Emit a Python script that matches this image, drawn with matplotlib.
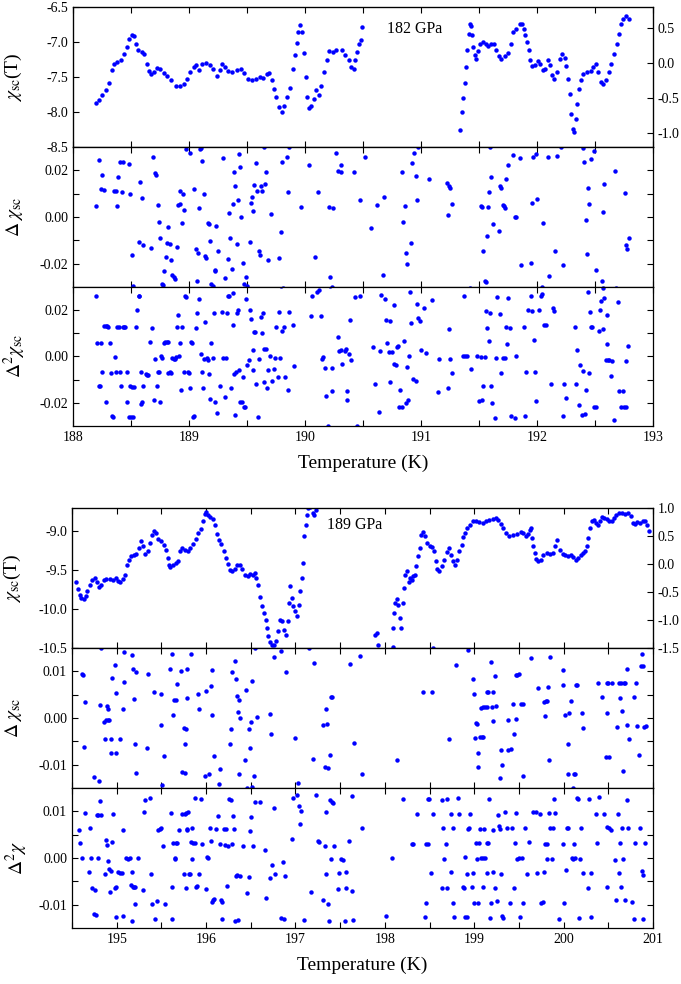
import numpy as np
import matplotlib
matplotlib.use('Agg')
import matplotlib.pyplot as plt
from matplotlib.ticker import MultipleLocator, FixedLocator

plt.rcParams['font.family'] = ['Liberation Serif', 'DejaVu Serif']
plt.rcParams['mathtext.fontset'] = 'stix'
plt.rcParams['axes.unicode_minus'] = False

# ---------------- 182 GPa run ----------------
# chi_sc(T) in tesla
t_182 = [188.197, 188.226, 188.254, 188.283, 188.311, 188.334, 188.354, 188.383, 188.411, 188.440,
         188.463, 188.483, 188.506, 188.526, 188.543, 188.563, 188.591, 188.611, 188.634, 188.654,
         188.674, 188.697, 188.726, 188.754, 188.783, 188.811, 188.849, 188.886, 188.920, 188.954,
         188.983, 189.011, 189.040, 189.063, 189.086, 189.114, 189.143, 189.177, 189.211, 189.240,
         189.263, 189.286, 189.306, 189.334, 189.371, 189.411, 189.449, 189.477, 189.506, 189.543,
         189.577, 189.611, 189.640, 189.669, 189.691, 189.714, 189.734, 189.754, 189.777, 189.800,
         189.823, 189.849, 189.874, 189.897, 189.914, 189.929, 189.943, 189.960, 189.977, 189.991,
         190.006, 190.020, 190.034, 190.054, 190.077, 190.097, 190.120, 190.140, 190.163, 190.186,
         190.211, 190.240, 190.269, 190.320, 190.349, 190.377, 190.400, 190.420, 190.434, 190.449,
         190.469, 190.486, 190.491,
         191.340, 191.354, 191.366, 191.377, 191.386, 191.400, 191.411, 191.420, 191.429, 191.440,
         191.451, 191.463, 191.474, 191.491, 191.511, 191.534, 191.557, 191.577, 191.600, 191.626,
         191.649, 191.669, 191.691, 191.720, 191.754, 191.777, 191.797, 191.823, 191.851, 191.869,
         191.886, 191.900, 191.914, 191.929, 191.943, 191.960, 191.983, 192.006, 192.029, 192.049,
         192.069, 192.091, 192.111, 192.129, 192.149, 192.171, 192.194, 192.217, 192.240, 192.254,
         192.269, 192.283, 192.297, 192.309, 192.320, 192.334, 192.349, 192.363, 192.377, 192.400,
         192.434, 192.463, 192.486, 192.506, 192.526, 192.549, 192.571, 192.594, 192.620, 192.640,
         192.663, 192.686, 192.709, 192.726, 192.743, 192.763, 192.791]
chi_182 = [-7.871, -7.824, -7.752, -7.690, -7.586, -7.405, -7.310, -7.286, -7.252, -7.167,
           -7.071, -6.952, -6.895, -6.919, -7.024, -7.119, -7.143, -7.176, -7.310, -7.414,
           -7.462, -7.429, -7.371, -7.386, -7.443, -7.490, -7.548, -7.633, -7.633, -7.605,
           -7.524, -7.429, -7.357, -7.333, -7.395, -7.319, -7.300, -7.333, -7.381, -7.490,
           -7.405, -7.310, -7.357, -7.419, -7.429, -7.395, -7.381, -7.443, -7.524, -7.548,
           -7.524, -7.500, -7.510, -7.462, -7.443, -7.548, -7.667, -7.786, -7.929, -8.000,
           -7.919, -7.786, -7.652, -7.381, -7.190, -7.014, -6.857, -6.752, -6.857, -7.157,
           -7.500, -7.786, -7.938, -7.919, -7.810, -7.690, -7.762, -7.633, -7.429, -7.252,
           -7.129, -7.143, -7.110, -7.119, -7.190, -7.262, -7.357, -7.381, -7.262, -7.143,
           -7.024, -6.976, -6.786,
           -8.252, -8.000, -7.795, -7.586, -7.357, -7.119, -6.881, -6.748, -6.776, -6.895,
           -7.071, -7.190, -7.238, -7.129, -7.024, -7.000, -7.024, -7.062, -7.024, -7.024,
           -7.110, -7.205, -7.238, -7.205, -7.157, -7.024, -6.857, -6.810, -6.748, -6.738,
           -6.810, -6.905, -7.000, -7.119, -7.262, -7.338, -7.333, -7.271, -7.319, -7.405,
           -7.381, -7.262, -7.333, -7.476, -7.524, -7.429, -7.238, -7.176, -7.224, -7.348,
           -7.524, -7.738, -8.024, -8.238, -8.286, -8.095, -7.881, -7.667, -7.548, -7.452,
           -7.429, -7.414, -7.357, -7.310, -7.429, -7.571, -7.605, -7.538, -7.429, -7.310,
           -7.167, -7.024, -6.881, -6.748, -6.667, -6.633, -6.667]

# first difference
t_d1_182 = [188.197, 188.226, 188.249, 188.240, 188.263, 188.354, 188.371, 188.377, 188.386, 188.406,
            188.420, 188.434, 188.483, 188.494, 188.506, 188.514, 188.569, 188.580, 188.591, 188.600,
            188.674, 188.686, 188.703, 188.714, 188.729, 188.740, 188.749, 188.766, 188.777, 188.786,
            188.800, 188.811, 188.823, 188.834, 188.843, 188.857, 188.869, 188.883, 188.897, 188.909,
            188.920, 188.923, 188.937, 188.949, 188.960, 188.971, 189.011, 189.040, 189.057, 189.069,
            189.077, 189.086, 189.094, 189.106, 189.114, 189.126, 189.140, 189.149, 189.160, 189.171,
            189.177, 189.191, 189.206, 189.220, 189.226, 189.229, 189.249, 189.297, 189.309, 189.334,
            189.343, 189.354, 189.369, 189.377, 189.389, 189.400, 189.411, 189.423, 189.429, 189.443,
            189.451, 189.463, 189.477, 189.491, 189.503, 189.526, 189.534, 189.543, 189.554, 189.563,
            189.577, 189.589, 189.600, 189.611, 189.620, 189.631, 189.646, 189.657, 189.663, 189.683,
            189.703, 189.777, 189.791, 189.800, 189.806, 189.843, 189.854, 189.863, 189.963, 190.034,
            190.086, 190.114, 190.134, 190.206, 190.214, 190.231, 190.243, 190.263, 190.286,
            190.306, 190.314, 190.420, 190.471, 190.514, 190.566, 190.620, 190.671, 190.683, 190.840,
            190.849, 190.863, 190.871, 190.883, 190.911, 190.920, 190.943, 190.954, 190.963, 190.971,
            191.069, 191.220, 191.240, 191.254, 191.234, 191.263, 191.423, 191.514, 191.526, 191.537,
            191.549, 191.557, 191.569, 191.577, 191.586, 191.597, 191.606, 191.617, 191.671, 191.680,
            191.691, 191.703, 191.714, 191.726, 191.734, 191.746, 191.797, 191.806, 191.820, 191.851,
            191.863, 191.946, 191.954, 191.969, 191.989, 191.997, 192.040, 192.051, 192.091, 192.106,
            192.157, 192.169, 192.211, 192.223, 192.397, 192.409, 192.420, 192.431, 192.443, 192.451,
            192.463, 192.491, 192.509, 192.560, 192.566, 192.571, 192.577, 192.671, 192.677, 192.757,
            192.766, 192.777, 192.789]
d1_182 = [0.0047, 0.0245, 0.0181, 0.0119, 0.0115, 0.0112, 0.0112, 0.0046, 0.0173, 0.0236,
          0.0108, 0.0237, 0.0227, 0.0098, -0.0164, -0.0294, -0.0108, 0.0150, 0.0083, -0.0122,
          -0.0132, 0.0256, 0.0187, 0.0178, 0.0050, -0.0020, -0.0089, -0.0286, -0.0291, -0.0230,
          -0.0173, -0.0111, -0.0043, -0.0115, -0.0183, -0.0247, -0.0255, -0.0265, -0.0129, 0.0050,
          0.0055, 0.0112, -0.0027, 0.0098, 0.0030, 0.0292, 0.0273, 0.0119, -0.0135, -0.0276,
          -0.0154, 0.0040, 0.0292, 0.0296, 0.0239, 0.0098, -0.0168, -0.0176, -0.0024, -0.0029,
          -0.0104, -0.0288, -0.0294, -0.0226, -0.0230, -0.0040, -0.0147, 0.0252, -0.0262, -0.0181,
          0.0017, -0.0092, -0.0222, 0.0055, 0.0191, 0.0131, -0.0114, 0.0072, 0.0271, 0.0213,
          0.0000, -0.0197, -0.0288, -0.0255, -0.0294, -0.0106, 0.0058, 0.0086, 0.0026, 0.0137,
          0.0230, 0.0112, -0.0147, -0.0161, 0.0134, 0.0112, 0.0302, 0.0141, 0.0194, -0.0186,
          0.0012, -0.0176, -0.0066, 0.0236, -0.0305, 0.0256, 0.0109, 0.0302, 0.0043, 0.0224,
          -0.0173, 0.0109, -0.0317, 0.0043, -0.0259, -0.0302, 0.0040, 0.0275, 0.0199,
          0.0223, 0.0191, 0.0194, 0.0072, 0.0259, -0.0046, 0.0052, -0.0247, 0.0086, 0.0194,
          -0.0020, 0.0046, -0.0154, -0.0201, -0.0111, 0.0230, 0.0275, 0.0176, 0.0073, 0.0302,
          0.0163, 0.0147, 0.0134, 0.0124, 0.0010, 0.0055, -0.0305, 0.0047, 0.0045, -0.0147,
          -0.0273, -0.0279, -0.0082, 0.0043, 0.0109, 0.0299, 0.0170, -0.0029, -0.0058, 0.0131,
          0.0124, 0.0052, 0.0046, 0.0037, 0.0165, 0.0222, 0.0265, 0.0000, 0.0000, 0.0253,
          -0.0204, -0.0197, 0.0062, 0.0259, 0.0268, 0.0076, -0.0298, -0.0026, 0.0256, -0.0253,
          -0.0147, 0.0263, 0.0302, -0.0204, 0.0296, 0.0235, -0.0014, -0.0158, 0.0124, 0.0055,
          0.0247, 0.0285, -0.0226, -0.0276, -0.0305, 0.0022, 0.0141, 0.0199, -0.0305, 0.0101,
          -0.0119, -0.0137, -0.0089]

# second difference
t_d2_182 = [188.200, 188.206, 188.226, 188.234, 188.243, 188.254, 188.286, 188.271, 188.286, 188.297,
            188.306, 188.320, 188.329, 188.337, 188.349, 188.360, 188.371, 188.383, 188.394, 188.406,
            188.417, 188.429, 188.440, 188.451, 188.463, 188.469, 188.480, 188.491, 188.500, 188.511,
            188.520, 188.529, 188.531, 188.543, 188.554, 188.566, 188.571, 188.583, 188.589, 188.597,
            188.606, 188.626, 188.634, 188.646, 188.660, 188.683, 188.697, 188.709, 188.720, 188.731,
            188.743, 188.754, 188.760, 188.769, 188.771, 188.780, 188.783, 188.794, 188.806, 188.817,
            188.823, 188.834, 188.846, 188.857, 188.869, 188.880, 188.891, 188.897, 188.903, 188.914,
            188.923, 188.931, 188.943, 188.954, 188.966, 188.977, 188.989, 188.997, 189.006, 189.014,
            189.023, 189.034, 189.046, 189.057, 189.063, 189.071, 189.086, 189.091, 189.103, 189.109,
            189.120, 189.131, 189.140, 189.151, 189.160, 189.171, 189.177, 189.186, 189.189, 189.197,
            189.206, 189.217, 189.223, 189.240, 189.271, 189.286, 189.297, 189.311, 189.323, 189.331,
            189.340, 189.349, 189.363, 189.377, 189.377, 189.389, 189.400, 189.406, 189.411, 189.423,
            189.431, 189.443, 189.454, 189.463, 189.474, 189.483, 189.491, 189.491, 189.503, 189.514,
            189.526, 189.531, 189.537, 189.549, 189.554, 189.563, 189.571, 189.580, 189.594, 189.606,
            189.617, 189.626, 189.634, 189.643, 189.649, 189.660, 189.669, 189.683, 189.697, 189.714,
            189.731, 189.743, 189.754, 189.769, 189.777, 189.786, 189.794, 189.800, 189.820, 189.829,
            189.851, 189.860, 189.897, 189.909, 190.051, 190.063, 190.106, 190.120, 190.137, 190.149,
            190.157, 190.171, 190.183, 190.197, 190.214, 190.229, 190.234, 190.286, 190.291,
            190.314, 190.320, 190.343, 190.354, 190.363, 190.366, 190.383, 190.391, 190.400, 190.434,
            190.449, 190.477, 190.583, 190.606, 190.634, 190.646, 190.657, 190.686, 190.697, 190.709,
            190.720, 190.729, 190.737, 190.749, 190.763, 190.771, 190.783, 190.791, 190.800, 190.811,
            190.820, 190.840, 190.857, 190.869, 190.877, 190.886, 190.894, 190.906, 190.914, 190.934,
            190.954, 190.963, 190.971, 190.991, 191.000, 191.023, 191.040, 191.091, 191.143, 191.154,
            191.229, 191.240, 191.249, 191.263, 191.360, 191.377, 191.371, 191.394, 191.434, 191.486,
            191.497, 191.514, 191.529, 191.537, 191.554, 191.560, 191.571, 191.583, 191.594, 191.600,
            191.611, 191.634, 191.649, 191.657, 191.677, 191.691, 191.703, 191.720, 191.734, 191.740,
            191.749, 191.766, 191.777, 191.806, 191.817, 191.886, 191.897, 191.909, 191.920, 191.949,
            191.960, 191.971, 191.980, 191.994, 192.020, 192.034, 192.046, 192.063, 192.077, 192.120,
            192.137, 192.149, 192.223, 192.234, 192.246, 192.326, 192.340, 192.349, 192.363, 192.371,
            192.389, 192.400, 192.411, 192.423, 192.440, 192.446, 192.457, 192.463, 192.477, 192.491,
            192.509, 192.531, 192.540, 192.554, 192.566, 192.577, 192.591, 192.600, 192.606, 192.614,
            192.623, 192.634, 192.649, 192.663, 192.697, 192.709, 192.726, 192.737, 192.749, 192.763,
            192.771, 192.783, 191.549, 192.034, 192.566]
d2_182 = [0.0260, 0.0059, -0.0129, -0.0129, 0.0059, -0.0066, -0.0196, 0.0132, 0.0132, 0.0132,
          0.0129, 0.0060, -0.0072, -0.0256, -0.0262, -0.0003, -0.0065, 0.0127, 0.0129, -0.0068,
          -0.0129, 0.0129, 0.0129, 0.0129, -0.0068, -0.0197, -0.0262, -0.0129, -0.0262, -0.0132,
          -0.0262, -0.0132, 0.0311, 0.0129, 0.0199, 0.0259, 0.0259, -0.0066, -0.0204, -0.0197,
          -0.0129, -0.0075, -0.0078, -0.0078, 0.0062, 0.0122, -0.0190, -0.0012, -0.0129, -0.0068,
          -0.0068, -0.0197, 0.0000, -0.0006, 0.0317, 0.0311, 0.0059, 0.0062, 0.0063, 0.0062,
          -0.0072, -0.0068, -0.0072, -0.0006, -0.0012, -0.0012, -0.0003, 0.0127, 0.0178, 0.0000,
          0.0058, -0.0144, 0.0127, -0.0066, 0.0262, 0.0255, -0.0066, -0.0072, -0.0135, 0.0063,
          0.0056, -0.0262, -0.0259, 0.0124, 0.0328, 0.0188, 0.0249, 0.0318, 0.0009, -0.0066,
          -0.0135, -0.0010, 0.0148, -0.0006, -0.0014, -0.0075, -0.0183, 0.0059, 0.0319, 0.0311,
          -0.0006, 0.0187, -0.0197, -0.0242, -0.0129, 0.0190, -0.0006, -0.0176, -0.0006, 0.0188,
          0.0263, 0.0263, -0.0137, 0.0135, 0.0275, -0.0075, -0.0252, -0.0066, 0.0188, 0.0199,
          -0.0058, -0.0196, -0.0197, -0.0089, -0.0216, -0.0216, 0.0246, 0.0311, -0.0039, -0.0017,
          0.0199, 0.0160, 0.0311, 0.0030, -0.0059, 0.0106, 0.0105, -0.0118, -0.0262, -0.0012,
          0.0170, 0.0102, 0.0188, -0.0111, 0.0033, 0.0033, -0.0135, -0.0058, 0.0000, -0.0104,
          -0.0055, -0.0006, 0.0127, -0.0089, 0.0191, -0.0006, 0.0302, 0.0108, 0.0127, -0.0089,
          -0.0144, 0.0191, 0.0135, -0.0043, 0.0174, 0.0259, 0.0276, 0.0285, 0.0174, -0.0012,
          -0.0003, -0.0049, -0.0170, -0.0302, 0.0302, -0.0049, -0.0147, 0.0083, 0.0023,
          0.0029, -0.0032, 0.0023, 0.0033, -0.0147, -0.0186, 0.0012, 0.0158, -0.0017, 0.0256,
          -0.0302, 0.0263, 0.0040, -0.0118, -0.0240, 0.0023, 0.0266, 0.0247, 0.0158, 0.0058,
          0.0019, -0.0112, 0.0153, 0.0019, -0.0032, 0.0220, -0.0035, 0.0040, 0.0047, -0.0216,
          -0.0144, -0.0216, 0.0065, -0.0201, -0.0046, -0.0187, 0.0000, 0.0278, 0.0144, -0.0098,
          -0.0104, 0.0227, 0.0167, 0.0153, 0.0029, 0.0210, 0.0014, 0.0245, -0.0154, -0.0013,
          -0.0137, 0.0119, -0.0009, -0.0072, 0.0004, 0.0004, 0.0259, 0.0004, -0.0055, 0.0001,
          -0.0193, -0.0003, -0.0190, -0.0129, -0.0003, 0.0196, 0.0124, 0.0065, 0.0188, -0.0129,
          -0.0201, -0.0265, -0.0006, 0.0256, 0.0184, -0.0072, -0.0007, -0.0007, 0.0127, 0.0055,
          0.0253, 0.0122, -0.0259, -0.0265, 0.0000, 0.0129, -0.0259, -0.0069, 0.0199, 0.0259,
          0.0196, 0.0072, -0.0066, -0.0193, 0.0200, 0.0259, 0.0268, 0.0135, 0.0135, -0.0118,
          0.0207, 0.0196, -0.0256, -0.0118, -0.0181, 0.0129, -0.0118, 0.0029, -0.0210, -0.0036,
          -0.0253, -0.0063, -0.0247, -0.0144, 0.0279, -0.0071, 0.0191, 0.0128, 0.0127, -0.0219,
          -0.0219, 0.0112, 0.0201, 0.0239, 0.0119, 0.0253, -0.0014, 0.0177, 0.0055, -0.0014,
          -0.0014, -0.0083, -0.0020, -0.0276, 0.0237, -0.0147, -0.0219, -0.0147, -0.0219, -0.0219,
          -0.0020, 0.0047, 0.0324, 0.0309, 0.0296]

# ---------------- 189 GPa run ----------------
t_189 = [194.549, 194.567, 194.586, 194.604, 194.631, 194.653, 194.672, 194.698, 194.728, 194.754,
         194.780, 194.802, 194.828, 194.854, 194.884, 194.922, 194.959, 194.989, 195.015, 195.041,
         195.071, 195.093, 195.116, 195.138, 195.164, 195.190, 195.220, 195.246, 195.269, 195.295,
         195.321, 195.351, 195.377, 195.399, 195.422, 195.444, 195.466, 195.496, 195.526, 195.556,
         195.571, 195.586, 195.600, 195.631, 195.660, 195.687, 195.713, 195.735, 195.765, 195.795,
         195.825, 195.854, 195.884, 195.914, 195.944, 195.966, 195.989, 196.004, 196.026, 196.049,
         196.078, 196.101, 196.123, 196.146, 196.172, 196.198, 196.220, 196.243, 196.265, 196.295,
         196.321, 196.347, 196.377, 196.407, 196.437, 196.470, 196.496, 196.526, 196.549, 196.563,
         196.586, 196.608, 196.631, 196.649, 196.668, 196.683, 196.698, 196.720, 196.743, 196.765,
         196.787, 196.810, 196.832, 196.854, 196.873, 196.892, 196.914, 196.929, 196.944, 196.959,
         196.974, 196.996, 197.019, 197.037, 197.056, 197.071, 197.086, 197.101, 197.116, 197.127,
         197.142, 197.168, 197.191, 197.213, 197.235,
         197.888, 197.907, 197.918, 198.086, 198.093, 198.101, 198.116, 198.131, 198.149, 198.168,
         198.183, 198.198, 198.213, 198.228, 198.243, 198.265, 198.280, 198.299, 198.317, 198.336,
         198.354, 198.373, 198.392, 198.410, 198.429, 198.448, 198.474, 198.504, 198.533, 198.552,
         198.571, 198.586, 198.608, 198.634, 198.660, 198.690, 198.713, 198.735, 198.757, 198.784,
         198.810, 198.832, 198.858, 198.877, 198.896, 198.922, 198.951, 198.981, 199.019, 199.056,
         199.093, 199.131, 199.168, 199.205, 199.243, 199.269, 199.295, 199.325, 199.354, 199.392,
         199.437, 199.481, 199.519, 199.549, 199.578, 199.604, 199.623, 199.638, 199.646, 199.660,
         199.675, 199.690, 199.716, 199.743, 199.772, 199.810, 199.847, 199.877, 199.903, 199.929,
         199.959, 199.989, 200.019, 200.052, 200.078, 200.108, 200.138, 200.164, 200.190, 200.220,
         200.239, 200.257, 200.276, 200.295, 200.317, 200.340, 200.362, 200.384, 200.407, 200.425,
         200.451, 200.481, 200.511, 200.541, 200.563, 200.586, 200.616, 200.649, 200.687, 200.724,
         200.750, 200.772, 200.799, 200.825, 200.854, 200.884, 200.910, 200.937, 200.959, 198.534]
chi_189 = [-9.652, -9.737, -9.814, -9.857, -9.866, -9.836, -9.772, -9.694, -9.622, -9.600,
           -9.652, -9.720, -9.686, -9.622, -9.609, -9.613, -9.622, -9.600, -9.634, -9.652,
           -9.609, -9.557, -9.429, -9.364, -9.321, -9.300, -9.291, -9.214, -9.120, -9.193,
           -9.291, -9.257, -9.150, -9.043, -8.991, -9.021, -9.094, -9.129, -9.171, -9.236,
           -9.343, -9.437, -9.463, -9.429, -9.407, -9.377, -9.257, -9.214, -9.236, -9.257,
           -9.214, -9.163, -9.094, -9.021, -8.966, -8.871, -8.777, -8.751, -8.794, -8.820,
           -8.837, -8.914, -9.034, -9.107, -9.163, -9.257, -9.343, -9.420, -9.493, -9.514,
           -9.480, -9.429, -9.429, -9.480, -9.557, -9.579, -9.549, -9.557, -9.536, -9.600,
           -9.694, -9.849, -9.964, -10.050, -10.136, -10.243, -10.350, -10.423, -10.457, -10.466,
           -10.406, -10.286, -10.136, -10.157, -10.264, -10.329, -10.157, -9.921, -9.707, -9.857,
           -9.964, -10.029, -10.093, -9.943, -9.772, -9.600, -9.407, -9.064, -8.914, -8.786,
           -8.700, -8.691, -8.764, -8.786, -8.721,
           -10.337, -10.307, -10.466, -10.490, -10.243, -10.050, -9.921, -9.866, -9.943, -10.114,
           -10.243, -9.921, -9.729, -9.557, -9.514, -9.652, -9.600, -9.622, -9.579, -9.557,
           -9.450, -9.321, -9.214, -9.043, -9.009, -9.064, -9.150, -9.193, -9.206, -9.257,
           -9.386, -9.480, -9.514, -9.450, -9.364, -9.266, -9.214, -9.300, -9.386, -9.437,
           -9.364, -9.257, -9.171, -9.077, -9.021, -8.957, -8.914, -8.871, -8.871, -8.880,
           -8.893, -8.871, -8.850, -8.837, -8.829, -8.854, -8.906, -8.957, -9.021, -9.056,
           -9.052, -9.034, -9.009, -9.021, -9.064, -9.034, -8.979, -8.957, -9.086, -9.193,
           -9.279, -9.351, -9.386, -9.364, -9.300, -9.279, -9.291, -9.279, -9.193, -9.107,
           -9.236, -9.291, -9.309, -9.321, -9.309, -9.334, -9.364, -9.343, -9.300, -9.279,
           -9.257, -9.193, -9.086, -8.957, -8.871, -8.850, -8.893, -8.923, -8.871, -8.820,
           -8.829, -8.837, -8.863, -8.871, -8.829, -8.786, -8.764, -8.764, -8.777, -8.764,
           -8.807, -8.893, -8.906, -8.880, -8.893, -8.863, -8.871, -8.923, -8.991, -10.500]

t_d1_189 = [194.616, 194.623, 194.634, 194.646, 194.750, 194.802, 194.810, 194.821, 194.858, 194.873,
            194.884, 194.892, 194.903, 194.907, 194.914, 194.937, 194.940, 194.951, 194.978, 194.989,
            194.996, 195.034, 195.071, 195.078, 195.086, 195.172, 195.183, 195.194, 195.205, 195.213,
            195.220, 195.340, 195.354, 195.418, 195.496, 195.496, 195.504, 195.534, 195.601, 195.623,
            195.634, 195.646, 195.660, 195.675, 195.724, 195.735, 195.750, 195.761, 195.765, 195.772,
            195.791, 195.791, 195.832, 195.914, 195.925, 195.993, 196.004, 196.037, 196.052, 196.063,
            196.071, 196.086, 196.146, 196.160, 196.269, 196.284, 196.295, 196.328, 196.340, 196.347,
            196.358, 196.366, 196.373, 196.384, 196.433, 196.448, 196.459, 196.481, 196.496, 196.507,
            196.515, 196.519, 196.537, 196.545, 196.567, 196.720, 196.731, 196.757, 196.836, 196.892,
            197.000, 197.034, 197.146, 197.198, 197.213, 197.313, 197.328, 197.340, 197.358, 197.369,
            197.384, 197.399, 197.410,
            197.608, 197.657, 197.720, 197.743, 198.131, 198.429, 198.522, 198.716, 198.795, 198.933,
            198.989, 198.996, 199.007, 199.015, 199.026, 199.041, 199.041, 199.063, 199.071, 199.086,
            199.101, 199.101, 199.123, 199.146, 199.138, 199.157, 199.187, 199.198, 199.205, 199.213,
            199.228, 199.239, 199.287, 199.299, 199.306, 199.373, 199.381, 199.410, 199.437, 199.448,
            199.466, 199.466, 199.481, 199.504, 199.522, 199.541, 199.549, 199.631, 199.716, 199.780,
            199.791, 199.802, 199.817, 199.825, 199.840, 199.847, 199.989, 199.989, 200.015, 200.045,
            200.052, 200.063, 200.078, 200.119, 200.131, 200.134, 200.153, 200.205, 200.220, 200.384,
            200.425, 200.474, 200.481, 200.489, 200.500, 200.511, 200.537, 200.601, 200.616, 200.631,
            200.638, 200.649, 200.668, 200.675, 200.690, 200.705, 200.713, 200.735, 200.791, 200.806,
            200.825, 200.847, 200.862, 200.884, 200.881, 200.896, 200.922, 200.108]
d1_189 = [0.0094, 0.0093, -0.0062, 0.0034, -0.0126, -0.0135, 0.0028, 0.0150, -0.0009, -0.0044,
          -0.0004, 0.0025, 0.0019, -0.0005, -0.0005, -0.0044, -0.0075, 0.0085, 0.0114, 0.0053,
          -0.0074, -0.0045, 0.0019, 0.0142, 0.0078, 0.0134, 0.0104, 0.0041, -0.0055, -0.0118,
          0.0099, -0.0064, 0.0095, 0.0056, 0.0051, -0.0015, -0.0144, -0.0081, 0.0104, 0.0138,
          0.0007, 0.0039, 0.0039, 0.0072, 0.0101, -0.0116, -0.0021, -0.0118, -0.0055, -0.0023,
          0.0104, 0.0043, 0.0137, 0.0052, 0.0020, -0.0125, 0.0057, -0.0121, 0.0068, 0.0102,
          0.0007, -0.0081, -0.0141, -0.0110, -0.0056, -0.0024, 0.0099, 0.0121, 0.0084, 0.0048,
          0.0012, 0.0038, -0.0119, -0.0001, -0.0091, 0.0059, -0.0150, -0.0024, -0.0065, -0.0008,
          0.0079, -0.0148, -0.0124, 0.0150, 0.0002, 0.0009, -0.0034, 0.0131, 0.0143, 0.0098,
          -0.0042, -0.0139, 0.0149, -0.0087, 0.0118, -0.0015, -0.0105, 0.0019, -0.0013, -0.0108,
          -0.0079, 0.0046, 0.0044,
          0.0116, -0.0054, 0.0132, -0.0121, -0.0089, 0.0056, 0.0055, -0.0044, 0.0113, 0.0146,
          0.0084, 0.0052, -0.0043, -0.0011, -0.0012, -0.0074, -0.0105, -0.0041, 0.0022, -0.0041,
          -0.0041, 0.0023, 0.0023, 0.0023, 0.0055, 0.0055, 0.0120, 0.0024, -0.0006, 0.0055,
          0.0089, 0.0025, -0.0129, -0.0068, -0.0101, -0.0069, -0.0004, -0.0066, 0.0029, -0.0034,
          -0.0002, 0.0092, 0.0093, 0.0094, 0.0031, 0.0031, -0.0125, 0.0128, 0.0064, 0.0034,
          0.0004, 0.0036, 0.0036, 0.0066, -0.0091, 0.0130, 0.0102, 0.0071, 0.0006, -0.0121,
          -0.0055, 0.0010, 0.0037, -0.0120, -0.0121, 0.0071, 0.0071, 0.0011, -0.0021, 0.0075,
          0.0044, -0.0084, 0.0075, 0.0011, 0.0076, -0.0084, 0.0075, -0.0020, 0.0075, 0.0042,
          0.0075, 0.0014, -0.0113, 0.0076, 0.0075, -0.0016, 0.0106, -0.0046, 0.0045, 0.0075,
          -0.0018, -0.0079, 0.0111, 0.0111, 0.0138, -0.0019, -0.0018, -0.0150]

t_d2_189 = [194.575, 194.586, 194.616, 194.642, 194.690, 194.705, 194.713, 194.724, 194.743, 194.754,
            194.765, 194.776, 194.787, 194.795, 194.810, 194.821, 194.869, 194.877, 194.888, 194.899,
            194.910, 194.922, 194.937, 194.944, 194.959, 194.978, 194.989, 194.996, 195.019, 195.034,
            195.056, 195.075, 195.071, 195.108, 195.127, 195.146, 195.157, 195.168, 195.175, 195.183,
            195.194, 195.205, 195.209, 195.243, 195.299, 195.306, 195.321, 195.377, 195.388, 195.399,
            195.433, 195.451, 195.466, 195.481, 195.496, 195.519, 195.545, 195.604, 195.616, 195.623,
            195.634, 195.649, 195.657, 195.668, 195.675, 195.698, 195.735, 195.754, 195.761, 195.772,
            195.780, 195.784, 195.791, 195.802, 195.813, 195.821, 195.828, 195.840, 195.843, 195.854,
            195.873, 195.881, 195.888, 195.899, 195.922, 195.948, 195.959, 196.004, 196.015, 196.026,
            196.045, 196.052, 196.063, 196.078, 196.086, 196.116, 196.138, 196.153, 196.168, 196.175,
            196.183, 196.198, 196.213, 196.228, 196.235, 196.246, 196.257, 196.280, 196.287, 196.299,
            196.313, 196.325, 196.332, 196.347, 196.362, 196.377, 196.414, 196.459, 196.481, 196.496,
            196.507, 196.526, 196.549, 196.601, 196.660, 196.668, 196.716, 196.739, 196.765, 196.772,
            196.843, 196.862, 196.869, 196.881, 196.959, 196.970, 197.015, 197.041, 197.056, 197.067,
            197.097, 197.172, 197.235, 197.254, 197.265, 197.310, 197.328, 197.340, 197.347, 197.369,
            197.377, 197.384, 197.399, 197.414, 197.433, 197.478, 197.489,
            197.422, 197.515, 197.534, 197.552, 197.563, 197.571, 197.597, 197.627, 197.638, 197.646,
            197.739, 198.011, 198.075, 198.205, 198.299, 198.310, 198.362, 198.448, 198.455, 198.466,
            198.478, 198.485, 198.496, 198.511, 198.534, 198.634, 198.634, 198.646, 198.660, 198.679,
            198.690, 198.698, 198.735, 198.743, 198.757, 198.765, 198.772, 198.813, 198.832, 198.877,
            198.884, 198.892, 198.899, 198.914, 198.922, 198.929, 198.944, 198.955, 198.974, 198.989,
            198.996, 199.019, 199.026, 199.037, 199.049, 199.063, 199.078, 199.093, 199.101, 199.108,
            199.119, 199.138, 199.146, 199.153, 199.168, 199.175, 199.190, 199.205, 199.213, 199.235,
            199.250, 199.265, 199.280, 199.291, 199.302, 199.306, 199.325, 199.343, 199.362, 199.399,
            199.425, 199.444, 199.455, 199.466, 199.474, 199.504, 199.511, 199.530, 199.549, 199.567,
            199.586, 199.616, 199.660, 199.690, 199.705, 199.735, 199.750, 199.765, 199.780, 199.791,
            199.810, 199.810, 199.836, 199.847, 199.866, 199.877, 199.892, 199.907, 199.951, 199.996,
            200.004, 200.022, 200.041, 200.049, 200.093, 200.108, 200.119, 200.131, 200.146, 200.164,
            200.175, 200.183, 200.190, 200.213, 200.269, 200.287, 200.302, 200.306, 200.358, 200.369,
            200.399, 200.455, 200.481, 200.489, 200.504, 200.526, 200.578, 200.586, 200.604, 200.616,
            200.631, 200.638, 200.653, 200.660, 200.687, 200.705, 200.716, 200.761, 200.787, 200.799,
            200.854, 200.873, 200.884, 200.892, 200.914]
d2_189 = [0.0061, 0.0032, -0.0001, 0.0096, -0.0031, 0.0064, -0.0001, -0.0065, -0.0121, -0.0068,
          -0.0123, 0.0092, 0.0000, 0.0092, 0.0123, 0.0093, -0.0034, 0.0039, 0.0027, -0.0006,
          -0.0024, -0.0072, -0.0027, 0.0034, 0.0094, -0.0065, -0.0062, -0.0126, -0.0030, -0.0032,
          -0.0032, 0.0059, -0.0124, -0.0001, -0.0002, -0.0001, -0.0058, -0.0134, -0.0031, -0.0062,
          -0.0063, -0.0098, -0.0062, 0.0001, -0.0068, 0.0098, 0.0125, 0.0128, -0.0035, -0.0098,
          -0.0131, -0.0092, 0.0059, 0.0063, 0.0064, 0.0026, -0.0098, 0.0096, -0.0063, -0.0131,
          0.0032, -0.0002, 0.0001, 0.0032, 0.0032, 0.0060, 0.0095, -0.0034, 0.0095, -0.0065,
          0.0096, 0.0063, 0.0061, 0.0099, -0.0034, -0.0034, 0.0034, 0.0064, -0.0002, 0.0032,
          0.0032, 0.0129, -0.0062, -0.0059, -0.0034, 0.0126, 0.0031, -0.0066, 0.0002, -0.0001,
          0.0064, 0.0036, -0.0095, -0.0089, -0.0088, 0.0063, 0.0091, 0.0029, -0.0091, -0.0131,
          -0.0094, 0.0062, 0.0027, 0.0062, -0.0061, 0.0026, 0.0126, 0.0124, 0.0030, 0.0091,
          0.0063, -0.0134, -0.0038, -0.0036, -0.0132, -0.0039, 0.0026, -0.0074, -0.0041, 0.0057,
          0.0087, 0.0025, 0.0121, 0.0119, 0.0018, -0.0086, -0.0042, -0.0015, 0.0107, -0.0034,
          -0.0129, -0.0009, -0.0131, -0.0038, 0.0041, 0.0129, 0.0134, 0.0111, 0.0073, 0.0100,
          -0.0132, -0.0072, 0.0134, 0.0036, 0.0034, -0.0091, 0.0026, 0.0099, -0.0034, -0.0098,
          -0.0134, 0.0125, -0.0002, 0.0119, 0.0026, -0.0066, -0.0032,
          0.0118, -0.0002, -0.0005, -0.0134, -0.0065, -0.0031, 0.0036, -0.0070, 0.0132, -0.0133,
          0.0064, -0.0125, 0.0001, 0.0127, 0.0031, 0.0029, 0.0095, -0.0127, -0.0096, 0.0031,
          0.0031, 0.0126, 0.0126, -0.0032, 0.0095, -0.0064, 0.0125, 0.0064, -0.0002, 0.0031,
          0.0126, -0.0064, -0.0031, 0.0095, 0.0064, -0.0096, -0.0126, 0.0129, 0.0095, -0.0063,
          -0.0064, -0.0126, 0.0002, -0.0034, -0.0127, 0.0062, 0.0064, 0.0095, -0.0063, -0.0032,
          -0.0096, 0.0032, -0.0002, -0.0096, 0.0032, 0.0063, -0.0001, -0.0063, -0.0001, 0.0063,
          -0.0001, 0.0032, -0.0032, 0.0032, 0.0126, -0.0128, -0.0096, -0.0031, 0.0061, -0.0064,
          -0.0093, 0.0092, 0.0068, 0.0062, -0.0034, -0.0125, -0.0128, 0.0098, 0.0064, -0.0096,
          0.0064, -0.0064, 0.0032, 0.0096, -0.0002, -0.0001, -0.0127, -0.0001, -0.0096, 0.0064,
          -0.0034, 0.0034, 0.0099, 0.0098, -0.0032, 0.0094, -0.0096, -0.0094, -0.0031, 0.0031,
          0.0031, -0.0002, 0.0096, 0.0064, -0.0002, 0.0064, 0.0127, 0.0096, -0.0131, 0.0031,
          -0.0096, -0.0026, 0.0064, 0.0064, 0.0001, -0.0002, 0.0031, -0.0001, 0.0129, 0.0126,
          -0.0128, -0.0002, 0.0064, -0.0032, -0.0064, 0.0126, -0.0032, -0.0126, 0.0095, 0.0032,
          0.0130, 0.0095, -0.0063, 0.0066, 0.0064, 0.0061, -0.0004, -0.0091, 0.0095, -0.0032,
          0.0032, -0.0062, 0.0064, -0.0002, -0.0091, 0.0124, 0.0064, -0.0095, -0.0131, 0.0032,
          0.0064, -0.0028, -0.0036, -0.0131, 0.0032]

BLUE = '#0000ff'
MS = 3.2


def style(ax, xmajor=1.0, xminor=0.5):
    ax.xaxis.set_major_locator(MultipleLocator(xmajor))
    ax.xaxis.set_minor_locator(MultipleLocator(xminor))
    ax.tick_params(which='both', direction='in', top=True, right=True,
                   length=4, width=0.8, labelsize=10)
    for s in ax.spines.values():
        s.set_linewidth(0.9)


def dots(ax, x, y):
    ax.plot(x, y, 'o', color=BLUE, ms=MS, mew=0, ls='none')


fig = plt.figure(figsize=(6.81, 9.84), dpi=100)

# ---------- upper block: 182 GPa ----------
L1, W1 = 0.1072, 0.8517
a1 = fig.add_axes([L1, 0.8506, W1, 0.1423])
a2 = fig.add_axes([L1, 0.7083, W1, 0.1423], sharex=a1)
a3 = fig.add_axes([L1, 0.5671, W1, 0.1413], sharex=a1)

dots(a1, t_182, chi_182)
a1.set_ylim(-8.5, -6.5)
a1.set_yticks([-6.5, -7.0, -7.5, -8.0, -8.5])
a1.yaxis.set_major_formatter('{x:.1f}')
a1.text(0.541, 0.843, '182 GPa', transform=a1.transAxes, fontsize=11.5,
        va='center', ha='left')
style(a1)
a1.tick_params(right=False)
r1 = a1.twinx()
r1.set_ylim(-1.2, 0.8)
r1.yaxis.set_major_locator(FixedLocator([0.5, 0.0, -0.5, -1.0]))
r1.yaxis.set_major_formatter('{x:.1f}')
r1.tick_params(direction='in', length=4, width=0.8, labelsize=10)

dots(a2, t_d1_182, d1_182)
a2.set_ylim(-0.03, 0.03)
a2.yaxis.set_major_locator(FixedLocator([-0.02, 0.0, 0.02]))
a2.yaxis.set_minor_locator(FixedLocator([-0.01, 0.01]))
a2.yaxis.set_major_formatter('{x:.2f}')
style(a2)

dots(a3, t_d2_182, d2_182)
a3.set_ylim(-0.03, 0.03)
a3.yaxis.set_major_locator(FixedLocator([-0.02, 0.0, 0.02]))
a3.yaxis.set_minor_locator(FixedLocator([-0.01, 0.01]))
a3.yaxis.set_major_formatter('{x:.2f}')
style(a3)
a3.set_xlim(188, 193)
a3.xaxis.set_major_formatter('{x:.0f}')
a3.set_xlabel('Temperature (K)', fontsize=14, labelpad=8)

for ax in (a1, a2):
    ax.tick_params(labelbottom=False)

a1.set_ylabel(r'$\chi_{\rm sc}$(T)', fontsize=14)
a2.set_ylabel(r'$\Delta\ \chi_{\rm sc}$', fontsize=14)
a3.set_ylabel(r'$\Delta^2\chi_{\rm sc}$', fontsize=14)
a1.yaxis.set_label_coords(-0.085, 0.5)
a2.yaxis.set_label_coords(-0.083, 0.5)
a3.yaxis.set_label_coords(-0.078, 0.5)

# ---------- lower block: 189 GPa ----------
L2, W2 = 0.1057, 0.8532
b1 = fig.add_axes([L2, 0.3415, W2, 0.1423])
b2 = fig.add_axes([L2, 0.1992, W2, 0.1423], sharex=b1)
b3 = fig.add_axes([L2, 0.0569, W2, 0.1423], sharex=b1)

dots(b1, t_189, chi_189)
b1.set_ylim(-10.5, -8.7)
b1.yaxis.set_major_locator(FixedLocator([-9.0, -9.5, -10.0, -10.5]))
b1.yaxis.set_major_formatter('{x:.1f}')
b1.text(0.439, 0.879, '189 GPa', transform=b1.transAxes, fontsize=11.5,
        va='center', ha='left')
style(b1)
b1.tick_params(right=False)
r2 = b1.twinx()
r2.set_ylim(-1.5, 1.0)
r2.yaxis.set_major_locator(FixedLocator([1.0, 0.5, 0.0, -0.5, -1.0, -1.5]))
r2.yaxis.set_major_formatter('{x:.1f}')
r2.tick_params(direction='in', length=4, width=0.8, labelsize=10)

dots(b2, t_d1_189, d1_189)
b2.set_ylim(-0.015, 0.015)
b2.yaxis.set_major_locator(FixedLocator([-0.01, 0.0, 0.01]))
b2.yaxis.set_minor_locator(FixedLocator([-0.005, 0.005]))
b2.yaxis.set_major_formatter('{x:.2f}')
style(b2)

dots(b3, t_d2_189, d2_189)
b3.set_ylim(-0.015, 0.015)
b3.yaxis.set_major_locator(FixedLocator([-0.01, 0.0, 0.01]))
b3.yaxis.set_minor_locator(FixedLocator([-0.005, 0.005]))
b3.yaxis.set_major_formatter('{x:.2f}')
style(b3)
b3.set_xlim(194.5, 201)
b3.xaxis.set_major_formatter('{x:.0f}')
b3.set_xlabel('Temperature (K)', fontsize=14, labelpad=8)

for ax in (b1, b2):
    ax.tick_params(labelbottom=False)

b1.set_ylabel(r'$\chi_{\rm sc}$(T)', fontsize=14)
b2.set_ylabel(r'$\Delta\ \chi_{\rm sc}$', fontsize=14)
b3.set_ylabel(r'$\Delta^2\chi$', fontsize=14)
b1.yaxis.set_label_coords(-0.085, 0.5)
b2.yaxis.set_label_coords(-0.083, 0.5)
b3.yaxis.set_label_coords(-0.072, 0.5)

fig.savefig('out.png', dpi=100)
